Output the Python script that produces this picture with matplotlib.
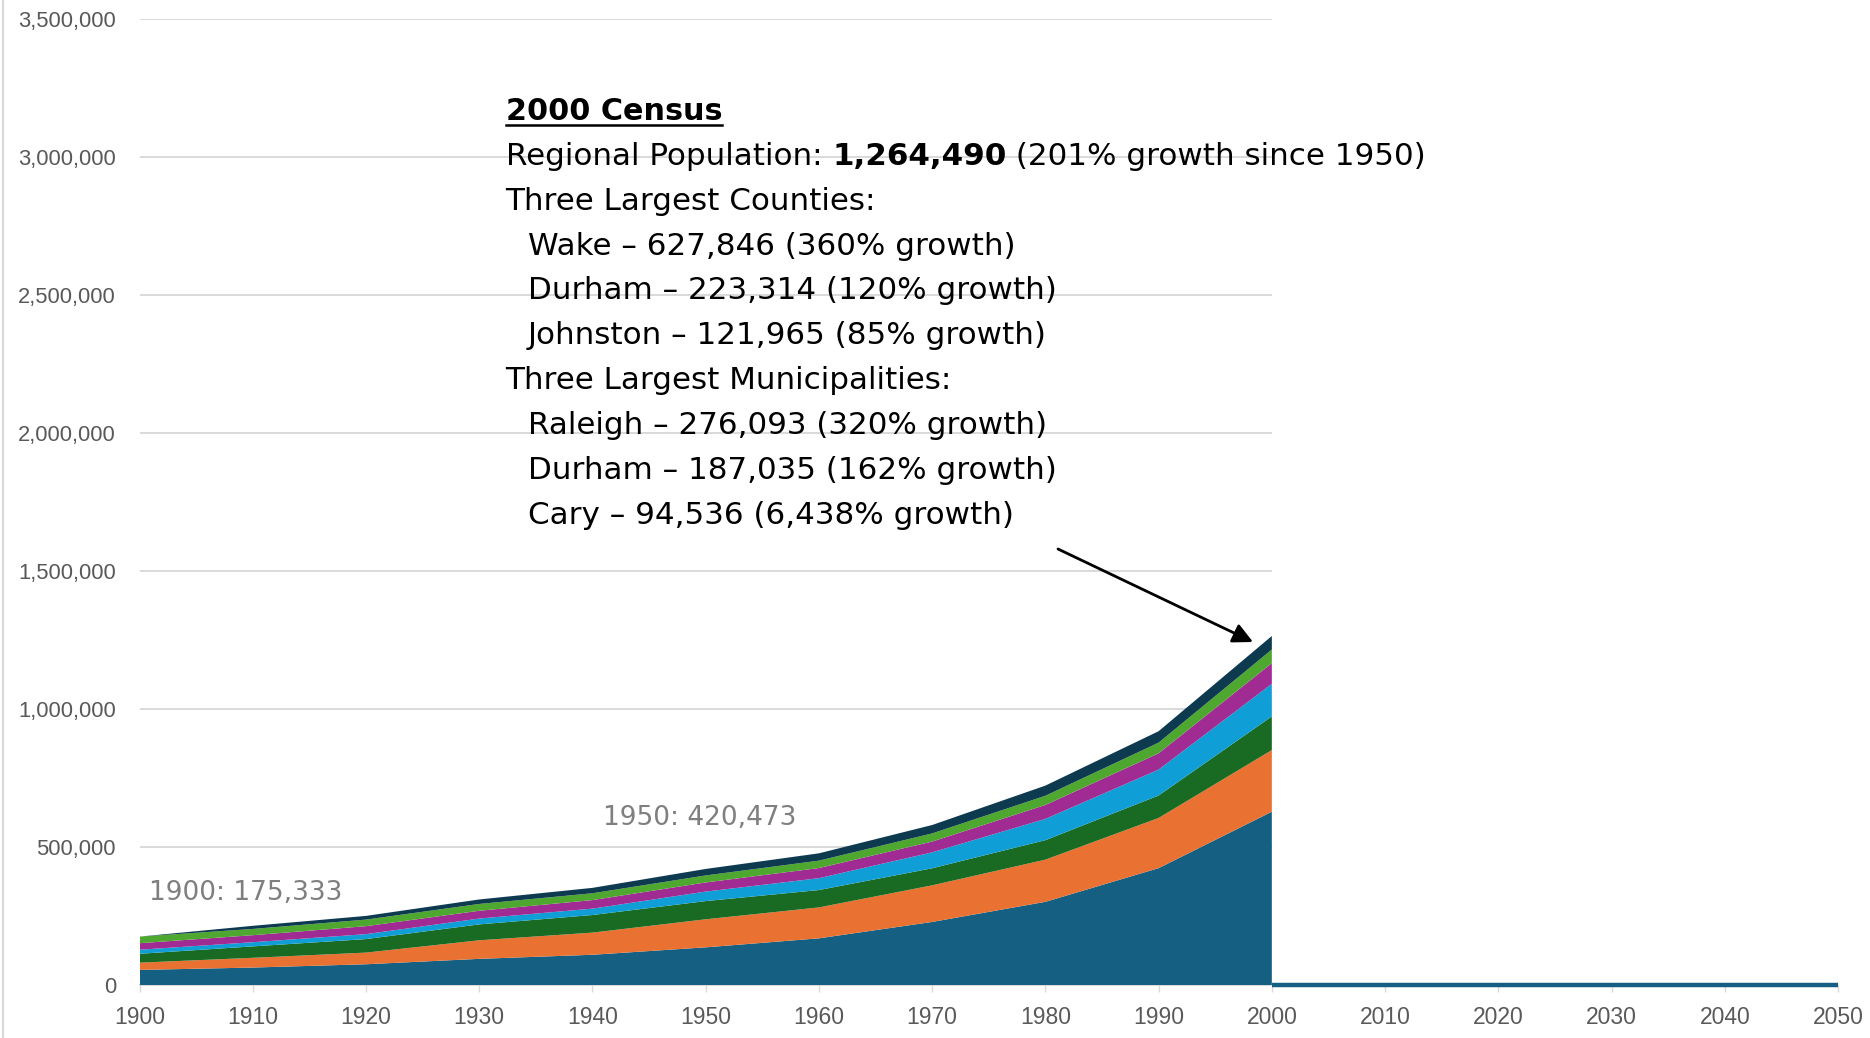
import matplotlib
matplotlib.use('Agg')
import matplotlib.pyplot as plt
from matplotlib.lines import Line2D
import matplotlib.ticker as mticker

# decennial census counts, 1900-2000
years = [1900, 1910, 1920, 1930, 1940, 1950, 1960, 1970, 1980, 1990, 2000]
wake = [54626, 63229, 75155, 94757, 109544, 136450, 169082, 228453, 301327, 423380, 627846]
durham = [26233, 35276, 42219, 67196, 80244, 101639, 111995, 132681, 152785, 181835, 223314]
johnston = [32250, 41401, 48998, 57621, 63798, 65906, 62936, 61737, 70599, 81306, 121965]
orange = [14690, 15064, 17895, 21171, 23072, 34435, 42970, 57707, 77055, 93851, 118227]
moore = [23622, 25478, 28864, 28215, 30969, 33129, 36733, 39048, 50505, 59013, 74769]
chatham = [23912, 22635, 23814, 24694, 24726, 25392, 26785, 29554, 33415, 38759, 49329]
lee = [0, 11376, 13400, 16262, 19561, 23522, 26561, 30467, 36718, 41374, 49040]

# projection years (no values filled in yet)
proj_years = [2000, 2010, 2020, 2030, 2040, 2050]
proj_pop = [0, 0, 0, 0, 0, 0]

colors = ['#156082', '#E97132', '#196B24', '#0F9ED5', '#A02B93', '#4EA72E', '#0E3A50']

callout_title = '2000 Census'
callout_lines = [
    (0, ['Regional Population: ', ('BOLD', '1,264,490'), ' (201% growth since 1950)']),
    (0, ['Three Largest Counties:']),
    (1, ['Wake \u2013 627,846 (360% growth)']),
    (1, ['Durham \u2013 223,314 (120% growth)']),
    (1, ['Johnston \u2013 121,965 (85% growth)']),
    (0, ['Three Largest Municipalities:']),
    (1, ['Raleigh \u2013 276,093 (320% growth)']),
    (1, ['Durham \u2013 187,035 (162% growth)']),
    (1, ['Cary \u2013 94,536 (6,438% growth)']),
]

W, H = 1870, 1038
grid_c = '#d9d9d9'
tick_c = '#595959'

series = [wake, durham, johnston, orange, moore, chatham, lee]
totals = [sum(v) for v in zip(*series)]

fig = plt.figure(figsize=(W / 100, H / 100), dpi=100)
ax = fig.add_axes([139.5 / W, 53 / H, (1838 - 139.5) / W, (985 - 19) / H])

ax.stackplot(years, *series, colors=colors, lw=0, zorder=3)
ax.plot(proj_years, proj_pop, color=colors[0], lw=3.2, solid_capstyle='butt',
        clip_on=False, zorder=4)

ax.set_xlim(1900, 2050)
ax.set_ylim(0, 3500000)
ax.set_xticks(range(1900, 2051, 10))
ax.set_yticks(range(0, 3500001, 500000))
ax.yaxis.set_major_formatter(mticker.FuncFormatter(lambda v, p: f'{int(v):,}'))

# gridlines only run across the census years
ax.hlines(range(500000, 3500001, 500000), 1900, 2000, color=grid_c, lw=1.4, zorder=1)

for s in ['top', 'right', 'left']:
    ax.spines[s].set_visible(False)
ax.spines['bottom'].set_color(grid_c)
ax.spines['bottom'].set_linewidth(1.4)
ax.tick_params(axis='x', length=5, width=1, color=grid_c, pad=10,
               labelsize=16.5, labelcolor=tick_c)
ax.tick_params(axis='y', length=0, pad=17, labelsize=15.8, labelcolor=tick_c)
for lab in ax.get_xticklabels() + ax.get_yticklabels():
    lab.set_fontfamily('Liberation Sans')

# gray point labels
ax.annotate(f'{years[0]}: {totals[0]:,}', xy=(years[0], totals[0]), xytext=(9.5, 37),
            textcoords='offset pixels', fontsize=19, color='#7f7f7f', va='baseline')
i50 = years.index(1950)
ax.annotate(f'{years[i50]}: {totals[i50]:,}', xy=(years[i50], totals[i50]), xytext=(-102.7, 43.5),
            textcoords='offset pixels', fontsize=19, color='#7f7f7f', va='baseline')

# left border of chart area
fig.add_artist(Line2D([3 / W, 3 / W], [0, 1], color=grid_c, lw=1.5))

# callout text block
fig.canvas.draw()
renderer = fig.canvas.get_renderer()
fs = 22.3
x0, x_ind = 505.6, 528
base0, step = 119.8, 44.9

t = fig.text(x0 / W, 1 - base0 / H, callout_title, fontsize=21.8, fontweight='bold',
             va='baseline', ha='left')
bb = t.get_window_extent(renderer)
uy = 1 - (base0 + 5) / H
fig.add_artist(Line2D([bb.x0 / W, bb.x1 / W], [uy, uy], color='black', lw=1.8))

for n, (indent, pieces) in enumerate(callout_lines, start=1):
    y = 1 - (base0 + n * step) / H
    x = (x_ind if indent else x0) / W
    for piece in pieces:
        bold = isinstance(piece, tuple)
        txt = piece[1] if bold else piece
        t = fig.text(x, y, txt, fontsize=fs, fontweight='bold' if bold else 'normal',
                     va='baseline', ha='left')
        x = t.get_window_extent(renderer).x1 / W

ax.annotate('', xy=(1253 / W, 1 - 642 / H), xycoords='figure fraction',
            xytext=(1058 / W, 1 - 549 / H), textcoords='figure fraction',
            arrowprops=dict(arrowstyle='-|>', color='black', lw=2.0, mutation_scale=30,
                            shrinkA=0, shrinkB=0))

plt.savefig('out.png', dpi=100)
